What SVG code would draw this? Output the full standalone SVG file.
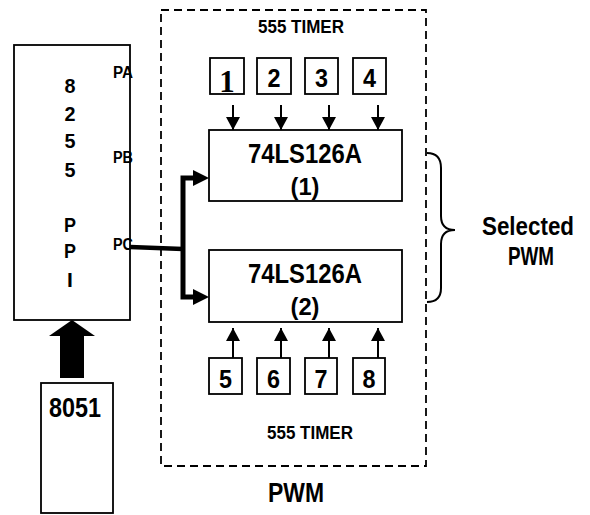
<svg xmlns="http://www.w3.org/2000/svg" width="590" height="515" viewBox="0 0 590 515">
<defs>
<style>
.box{fill:#fff;stroke:#000;stroke-width:1.8}
.t{font-family:"Liberation Sans",Arial,sans-serif;font-weight:bold;fill:#000;text-anchor:middle}
.dash{fill:none;stroke:#000;stroke-width:1.8;stroke-dasharray:8,5}
.ln{fill:none;stroke:#000;stroke-width:2}
</style>
<marker id="ah" markerUnits="userSpaceOnUse" markerWidth="15" markerHeight="15" refX="13" refY="7" orient="auto">
<path d="M0,0 L13,7 L0,14 z" fill="#000"/>
</marker>
</defs>
<rect width="590" height="515" fill="#fff"/>

<g id="pwm-frame">
<rect class="dash" x="161" y="10" width="265" height="456"/>
<text class="t" x="301" y="33" font-size="18" textLength="86" lengthAdjust="spacingAndGlyphs">555 TIMER</text>
<text class="t" x="310" y="439" font-size="18" textLength="86" lengthAdjust="spacingAndGlyphs">555 TIMER</text>
<text class="t" x="296" y="502" font-size="27" textLength="56" lengthAdjust="spacingAndGlyphs">PWM</text>
</g>

<g id="ppi8255">
<rect class="box" x="14" y="45" width="116" height="275"/>
<text class="t" font-size="21" x="70" y="93" textLength="11" lengthAdjust="spacingAndGlyphs">8</text>
<text class="t" font-size="21" x="70" y="121" textLength="11" lengthAdjust="spacingAndGlyphs">2</text>
<text class="t" font-size="21" x="70" y="148" textLength="11" lengthAdjust="spacingAndGlyphs">5</text>
<text class="t" font-size="21" x="70" y="177" textLength="11" lengthAdjust="spacingAndGlyphs">5</text>
<text class="t" font-size="21" x="70" y="232" textLength="12" lengthAdjust="spacingAndGlyphs">P</text>
<text class="t" font-size="21" x="70" y="258" textLength="12" lengthAdjust="spacingAndGlyphs">P</text>
<text class="t" font-size="21" x="70" y="287">I</text>
<text class="t" font-size="16" x="123" y="78" textLength="20" lengthAdjust="spacingAndGlyphs">PA</text>
<text class="t" font-size="16" x="123" y="163" textLength="20" lengthAdjust="spacingAndGlyphs">PB</text>
<text class="t" font-size="16" x="123" y="250" textLength="20" lengthAdjust="spacingAndGlyphs">PC</text>
</g>

<g id="mcu8051">
<rect class="box" x="41" y="383" width="72" height="130"/>
<text class="t" x="75" y="417" font-size="28" textLength="52" lengthAdjust="spacingAndGlyphs">8051</text>
</g>

<g id="buffer1">
<rect class="box" x="209" y="130" width="193" height="71"/>
<text class="t" x="305" y="163" font-size="27" textLength="114" lengthAdjust="spacingAndGlyphs">74LS126A</text>
<text class="t" x="305" y="195" font-size="23" textLength="29" lengthAdjust="spacingAndGlyphs">(1)</text>
</g>

<g id="buffer2">
<rect class="box" x="209" y="250" width="193" height="72"/>
<text class="t" x="305" y="283" font-size="27" textLength="114" lengthAdjust="spacingAndGlyphs">74LS126A</text>
<text class="t" x="305" y="315" font-size="23" textLength="29" lengthAdjust="spacingAndGlyphs">(2)</text>
</g>

<g id="timer1"><rect class="box" x="210" y="58" width="34" height="36"/><text x="227" y="92" font-family="'Liberation Serif','Times New Roman',serif" font-weight="bold" font-size="31" text-anchor="middle">1</text></g>
<g id="timer2"><rect class="box" x="257" y="58" width="34" height="36"/><text class="t" x="274" y="87" font-size="26" textLength="13" lengthAdjust="spacingAndGlyphs">2</text></g>
<g id="timer3"><rect class="box" x="305" y="58" width="33" height="36"/><text class="t" x="321.5" y="87" font-size="26" textLength="13" lengthAdjust="spacingAndGlyphs">3</text></g>
<g id="timer4"><rect class="box" x="353" y="58" width="33" height="36"/><text class="t" x="369.5" y="87" font-size="26" textLength="13" lengthAdjust="spacingAndGlyphs">4</text></g>
<g id="timer5"><rect class="box" x="209" y="358" width="33" height="36"/><text class="t" x="225.5" y="388" font-size="26" textLength="13" lengthAdjust="spacingAndGlyphs">5</text></g>
<g id="timer6"><rect class="box" x="257" y="358" width="33" height="36"/><text class="t" x="273.5" y="388" font-size="26" textLength="13" lengthAdjust="spacingAndGlyphs">6</text></g>
<g id="timer7"><rect class="box" x="305" y="358" width="32" height="36"/><text class="t" x="321" y="388" font-size="26" textLength="13" lengthAdjust="spacingAndGlyphs">7</text></g>
<g id="timer8"><rect class="box" x="353" y="358" width="32" height="36"/><text class="t" x="369" y="388" font-size="26" textLength="13" lengthAdjust="spacingAndGlyphs">8</text></g>

<g id="selected">
<path class="ln" d="M427,153 Q441,153 441,168 L441,216 Q441,230 455,230 Q441,230 441,244 L441,288 Q441,302 427,302" stroke-width="1.8"/>
<text class="t" x="528" y="235" font-size="25" textLength="92" lengthAdjust="spacingAndGlyphs">Selected</text>
<text class="t" x="531" y="265" font-size="25" textLength="46" lengthAdjust="spacingAndGlyphs">PWM</text>
</g>

<g id="connectors">
<line class="ln" x1="233" y1="105" x2="233" y2="130" marker-end="url(#ah)"/>
<line class="ln" x1="281" y1="105" x2="281" y2="130" marker-end="url(#ah)"/>
<line class="ln" x1="329" y1="105" x2="329" y2="130" marker-end="url(#ah)"/>
<line class="ln" x1="378" y1="105" x2="378" y2="130" marker-end="url(#ah)"/>
<line class="ln" x1="233" y1="358" x2="233" y2="328" marker-end="url(#ah)"/>
<line class="ln" x1="281" y1="358" x2="281" y2="328" marker-end="url(#ah)"/>
<line class="ln" x1="329" y1="358" x2="329" y2="328" marker-end="url(#ah)"/>
<line class="ln" x1="378" y1="358" x2="378" y2="328" marker-end="url(#ah)"/>
<path d="M130,247 L183,249" fill="none" stroke="#000" stroke-width="4.5"/>
<path d="M196,178 L183,178 L183,297 L196,297" fill="none" stroke="#000" stroke-width="5" stroke-linejoin="miter"/>
<polygon points="193,170 209,178 193,186" fill="#000"/>
<polygon points="193,289 209,297 193,305" fill="#000"/>
<polygon points="72,320 49,336 60,336 60,378 84,378 84,336 95,336" fill="#000"/>
</g>
</svg>
